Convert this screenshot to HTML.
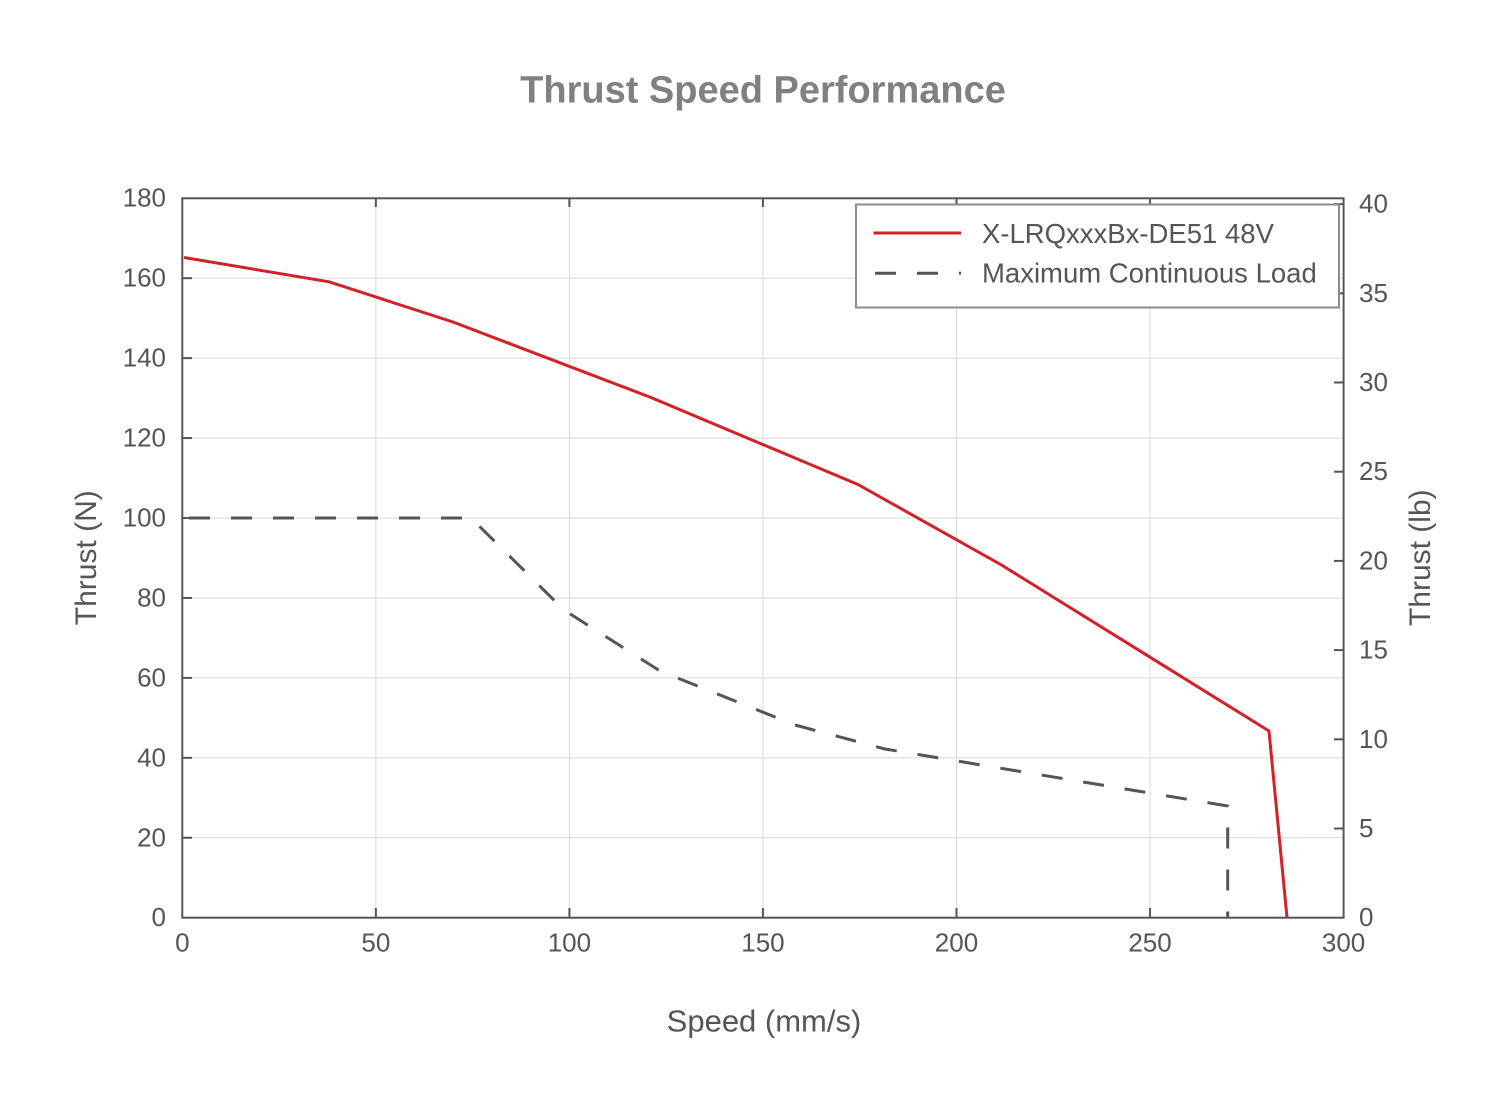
<!DOCTYPE html>
<html>
<head>
<meta charset="utf-8">
<style>
  html, body { margin: 0; padding: 0; background: #ffffff; }
  svg { display: block; }
  text { font-family: "Liberation Sans", Arial, sans-serif; }
</style>
</head>
<body>
<svg width="1510" height="1113" viewBox="0 0 1510 1113" xmlns="http://www.w3.org/2000/svg">
  <rect x="0" y="0" width="1510" height="1113" fill="#ffffff"/>

  <!-- Title -->
  <text x="763" y="102.5" text-anchor="middle" font-size="38" font-weight="bold" fill="#808080">Thrust Speed Performance</text>

  <!-- Grid -->
  <g stroke="#dadada" stroke-width="1">
    <line x1="375.85" y1="198.3" x2="375.85" y2="917.7"/>
    <line x1="569.4" y1="198.3" x2="569.4" y2="917.7"/>
    <line x1="762.95" y1="198.3" x2="762.95" y2="917.7"/>
    <line x1="956.5" y1="198.3" x2="956.5" y2="917.7"/>
    <line x1="1150.05" y1="198.3" x2="1150.05" y2="917.7"/>
    <line x1="182.3" y1="837.76" x2="1343.6" y2="837.76"/>
    <line x1="182.3" y1="757.82" x2="1343.6" y2="757.82"/>
    <line x1="182.3" y1="677.88" x2="1343.6" y2="677.88"/>
    <line x1="182.3" y1="597.94" x2="1343.6" y2="597.94"/>
    <line x1="182.3" y1="518.0" x2="1343.6" y2="518.0"/>
    <line x1="182.3" y1="438.06" x2="1343.6" y2="438.06"/>
    <line x1="182.3" y1="358.12" x2="1343.6" y2="358.12"/>
    <line x1="182.3" y1="278.18" x2="1343.6" y2="278.18"/>
  </g>

  <!-- Dashed series: Maximum Continuous Load -->
  <polyline fill="none" stroke="#555555" stroke-width="3" stroke-dasharray="21 21"
    points="189,518 471,518 564,610 660,671 795,725 885,749 1227.7,806 1227.7,917.7"/>

  <!-- Red series -->
  <polyline fill="none" stroke="#d42027" stroke-width="3" stroke-linejoin="round"
    points="184,257.5 329,281.8 453,322 651,397.5 858,484.5 1001.5,565 1269,731 1287,917.7"/>

  <!-- Spines -->
  <rect x="182.3" y="198.3" width="1161.3" height="719.4" fill="none" stroke="#555555" stroke-width="2"/>

  <!-- Bottom & top ticks -->
  <g stroke="#555555" stroke-width="2">
    <line x1="375.85" y1="917.7" x2="375.85" y2="908"/>
    <line x1="569.4" y1="917.7" x2="569.4" y2="908"/>
    <line x1="762.95" y1="917.7" x2="762.95" y2="908"/>
    <line x1="956.5" y1="917.7" x2="956.5" y2="908"/>
    <line x1="1150.05" y1="917.7" x2="1150.05" y2="908"/>
    <line x1="375.85" y1="198.3" x2="375.85" y2="207"/>
    <line x1="569.4" y1="198.3" x2="569.4" y2="207"/>
    <line x1="762.95" y1="198.3" x2="762.95" y2="207"/>
    <line x1="956.5" y1="198.3" x2="956.5" y2="207"/>
    <line x1="1150.05" y1="198.3" x2="1150.05" y2="207"/>
    <!-- left ticks -->
    <line x1="182.3" y1="837.76" x2="192" y2="837.76"/>
    <line x1="182.3" y1="757.82" x2="192" y2="757.82"/>
    <line x1="182.3" y1="677.88" x2="192" y2="677.88"/>
    <line x1="182.3" y1="597.94" x2="192" y2="597.94"/>
    <line x1="182.3" y1="518.0" x2="192" y2="518.0"/>
    <line x1="182.3" y1="438.06" x2="192" y2="438.06"/>
    <line x1="182.3" y1="358.12" x2="192" y2="358.12"/>
    <line x1="182.3" y1="278.18" x2="192" y2="278.18"/>
    <!-- right ticks (lb) -->
    <line x1="1343.6" y1="828.5" x2="1334" y2="828.5"/>
    <line x1="1343.6" y1="739.3" x2="1334" y2="739.3"/>
    <line x1="1343.6" y1="650.1" x2="1334" y2="650.1"/>
    <line x1="1343.6" y1="560.9" x2="1334" y2="560.9"/>
    <line x1="1343.6" y1="471.7" x2="1334" y2="471.7"/>
    <line x1="1343.6" y1="382.5" x2="1334" y2="382.5"/>
    <line x1="1343.6" y1="293.3" x2="1334" y2="293.3"/>
    <line x1="1343.6" y1="204.1" x2="1334" y2="204.1"/>
  </g>

  <!-- Left tick labels -->
  <g font-size="26" fill="#555555" text-anchor="end">
    <text x="166" y="926.2">0</text>
    <text x="166" y="846.3">20</text>
    <text x="166" y="766.3">40</text>
    <text x="166" y="686.4">60</text>
    <text x="166" y="606.4">80</text>
    <text x="166" y="526.5">100</text>
    <text x="166" y="446.6">120</text>
    <text x="166" y="366.6">140</text>
    <text x="166" y="286.7">160</text>
    <text x="166" y="206.7">180</text>
  </g>

  <!-- Bottom tick labels -->
  <g font-size="26" fill="#555555" text-anchor="middle">
    <text x="182.3" y="951.5">0</text>
    <text x="375.85" y="951.5">50</text>
    <text x="569.4" y="951.5">100</text>
    <text x="762.95" y="951.5">150</text>
    <text x="956.5" y="951.5">200</text>
    <text x="1150.05" y="951.5">250</text>
    <text x="1343.6" y="951.5">300</text>
  </g>

  <!-- Right tick labels -->
  <g font-size="26" fill="#555555" text-anchor="start">
    <text x="1359" y="926.2">0</text>
    <text x="1359" y="837">5</text>
    <text x="1359" y="747.8">10</text>
    <text x="1359" y="658.6">15</text>
    <text x="1359" y="569.4">20</text>
    <text x="1359" y="480.2">25</text>
    <text x="1359" y="391">30</text>
    <text x="1359" y="301.8">35</text>
    <text x="1359" y="212.6">40</text>
  </g>

  <!-- Axis labels -->
  <text x="764" y="1031.5" text-anchor="middle" font-size="31" fill="#555555">Speed (mm/s)</text>
  <text transform="translate(96,557.7) rotate(-90)" text-anchor="middle" font-size="30" fill="#555555">Thrust (N)</text>
  <text transform="translate(1430,557.7) rotate(-90)" text-anchor="middle" font-size="30" fill="#555555">Thrust (lb)</text>

  <!-- Legend -->
  <rect x="856" y="204.5" width="483" height="103" fill="#ffffff" stroke="#8c8c8c" stroke-width="2"/>
  <line x1="873.5" y1="233" x2="961" y2="233" stroke="#d42027" stroke-width="3"/>
  <line x1="875" y1="273.3" x2="961" y2="273.3" stroke="#555555" stroke-width="3" stroke-dasharray="21 21"/>
  <text x="982" y="243" font-size="27.5" fill="#555555">X-LRQxxxBx-DE51 48V</text>
  <text x="982" y="282.5" font-size="27.5" fill="#555555">Maximum Continuous Load</text>
</svg>
</body>
</html>
